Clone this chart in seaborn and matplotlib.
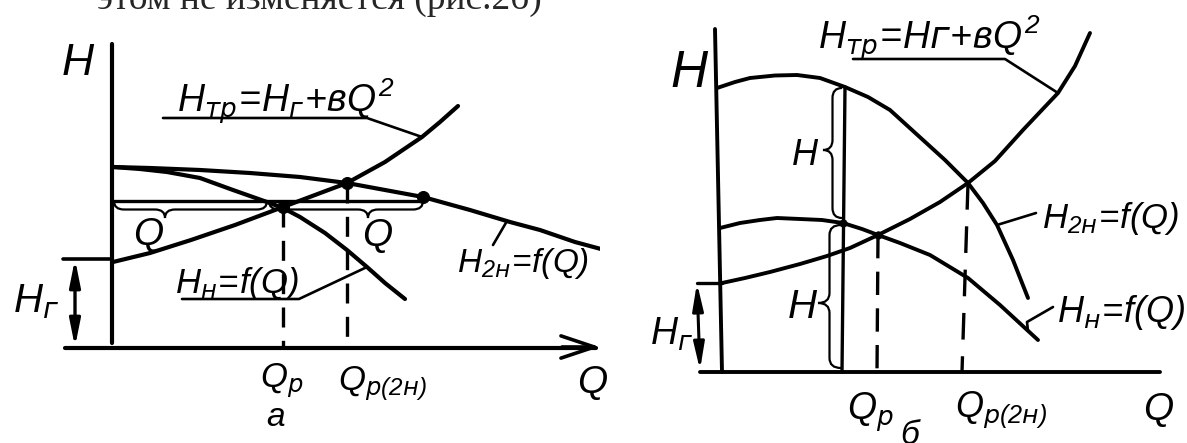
import matplotlib
matplotlib.use("Agg")
import matplotlib.pyplot as plt
from matplotlib.path import Path
from matplotlib.patches import PathPatch
import pandas as pd
import seaborn as sns

sns.set_theme(style="white")
HAND = ["Liberation Sans", "DejaVu Sans"]
plt.rcParams["font.family"] = HAND
plt.rcParams["font.style"] = "italic"
plt.rcParams["mathtext.fontset"] = "custom"
plt.rcParams["mathtext.it"] = "Liberation Sans:italic"
plt.rcParams["mathtext.rm"] = "Liberation Sans:italic"
plt.rcParams["mathtext.sf"] = "DejaVu Sans:italic"   # slanted upright-form Cyrillic
plt.rcParams["mathtext.bf"] = "Liberation Sans:italic:bold"

INK = "black"

# ---------------- panel а : curves (Q, H in drawing units) ----------------
a_pipe_q = [0.1, 3.8, 7.9, 12.3, 17.1, 20.3, 23.5, 27.3, 31.0, 32.8, 34.6]
a_pipe_h = [8.6, 9.5, 10.8, 12.3, 14.1, 15.3, 16.5, 18.6, 21.1, 22.6, 24.2]
a_two_q = [0.1, 3.8, 8.8, 13.8, 18.8, 23.5, 27.3, 31.1, 35.8, 39.8, 42.8, 46.3, 50.0]
a_two_h = [18.1, 18.0, 17.8, 17.5, 17.1, 16.5, 15.8, 15.1, 13.8, 12.6, 11.8, 10.6, 9.6]
a_one_q = [0.1, 2.8, 5.5, 8.8, 12.1, 15.5, 17.1, 18.8, 21.3, 23.5, 25.5, 27.3, 29.3]
a_one_h = [18.1, 17.9, 17.6, 17.0, 15.8, 14.6, 14.0, 13.1, 11.5, 9.8, 8.1, 6.5, 4.9]
a_dot_q = [17.1, 23.5, 31.1]
a_dot_h = [14.1, 16.5, 15.1]
a_qp = 17.1          # working point of one pump
a_qp2 = 23.5         # working point of two pumps
a_hg = 8.9           # static head
a_hline = 14.7       # level at which flows are added

# ---------------- panel б : curves ----------------
b_two_q = [-0.5, 1.3, 2.8, 5.3, 7.5, 9.8, 12.3, 14.6, 16.8, 20.1, 22.3, 24.6, 26.1, 27.5, 29.1, 30.6]
b_two_h = [28.4, 29.0, 29.4, 29.65, 29.7, 29.4, 28.5, 27.5, 26.2, 23.2, 21.2, 18.9, 16.9, 14.7, 11.2, 7.4]
b_pipe_q = [0.0, 2.3, 4.8, 7.8, 10.5, 12.8, 15.6, 18.8, 21.8, 24.6, 27.3, 30.1, 31.8, 33.6, 35.3, 36.8]
b_pipe_h = [8.9, 9.4, 10.0, 10.8, 11.6, 12.4, 13.7, 15.3, 17.0, 18.9, 21.1, 24.2, 26.0, 27.9, 30.6, 33.9]
b_one_q = [-0.2, 1.8, 3.8, 5.5, 7.8, 10.0, 12.1, 14.0, 15.6, 17.8, 20.8, 24.6, 27.8, 31.6]
b_one_h = [14.4, 14.9, 15.2, 15.4, 15.3, 15.2, 14.9, 14.3, 13.7, 12.9, 11.7, 9.4, 6.7, 3.2]
b_dot_q = [12.1, 15.6]
b_dot_h = [14.9, 13.7]
b_qh = 12.2          # flow at which heads are added
b_qp = 15.6
b_qp2 = 24.6
b_hg = 8.9


def curves_frame(items):
    rows = []
    for name, qs, hs in items:
        for q, h in zip(qs, hs):
            rows.append({"curve": name, "Q": q, "H": h})
    return pd.DataFrame(rows)


def seg(ax, qs, hs, lw=2.2, **kw):
    df = pd.DataFrame({"Q": qs, "H": hs})
    sns.lineplot(data=df, x="Q", y="H", sort=False, estimator=None, color=INK,
                 lw=lw, ax=ax, solid_capstyle="round", dash_capstyle="butt", **kw)


def hbrace(ax, x0, x1, xt, y, d, lw=1.6):
    x0, x1 = sorted((x0, x1))
    r = 1.0
    m = y - d / 2
    verts = [(x0, y), (x0, m), (x0 + r, m), (xt - r, m), (xt, m), (xt, y - d),
             (xt, m), (xt + r, m), (x1 - r, m), (x1, m), (x1, y)]
    codes = [Path.MOVETO, Path.CURVE3, Path.CURVE3, Path.LINETO, Path.CURVE3, Path.CURVE3,
             Path.CURVE3, Path.CURVE3, Path.LINETO, Path.CURVE3, Path.CURVE3]
    ax.add_patch(PathPatch(Path(verts, codes), fill=False, lw=lw, ec=INK))


def vbrace(ax, y0, y1, yt, x, d, lw=1.6):
    y0, y1 = sorted((y0, y1))
    r = 1.0
    m = x - d / 2
    verts = [(x, y0), (m, y0), (m, y0 + r), (m, yt - r), (m, yt), (x - d, yt),
             (m, yt), (m, yt + r), (m, y1 - r), (m, y1), (x, y1)]
    codes = [Path.MOVETO, Path.CURVE3, Path.CURVE3, Path.LINETO, Path.CURVE3, Path.CURVE3,
             Path.CURVE3, Path.CURVE3, Path.LINETO, Path.CURVE3, Path.CURVE3]
    ax.add_patch(PathPatch(Path(verts, codes), fill=False, lw=lw, ec=INK))


def label(ax, x, y, s, size, **kw):
    kw.setdefault("ha", "left")
    kw.setdefault("va", "baseline")
    ax.text(x, y, s, fontsize=size, color=INK, **kw)


W, H = 1187, 443
fig = plt.figure(figsize=(W / 100, H / 100), dpi=100)
fig.patch.set_facecolor("white")

# both panels use 10 px per drawing unit
ax_a = fig.add_axes([0, 0, 600 / W, 1])
ax_a.set_xlim((0 - 112) / 10, (600 - 112) / 10)
ax_a.set_ylim((348 - 443) / 10, 348 / 10)
ax_b = fig.add_axes([600 / W, 0, 587 / W, 1])
ax_b.set_xlim((600 - 722) / 10, (1187 - 722) / 10)
ax_b.set_ylim((372 - 443) / 10, 372 / 10)
for ax in (ax_a, ax_b):
    ax.axis("off")

# ======================= panel а =======================
ax = ax_a
df_a = curves_frame([("pipe", a_pipe_q, a_pipe_h),
                     ("two", a_two_q, a_two_h),
                     ("one", a_one_q, a_one_h)])
sns.lineplot(data=df_a, x="Q", y="H", units="curve", estimator=None, sort=False,
             color=INK, lw=3.0, ax=ax, legend=False)
sns.scatterplot(x=a_dot_q, y=a_dot_h, s=75, color=INK, edgecolor=INK, ax=ax, zorder=5)

# axes
seg(ax, [0, 0], [30.4, 0.5], lw=3.0)
seg(ax, [-4.7, 48.4], [0, 0], lw=3.0)
ax.annotate("", xy=(48.8, 0.1), xytext=(45.0, 0.1),
            arrowprops=dict(arrowstyle="->,head_length=1.2,head_width=0.4",
                            lw=2.6, color=INK, mutation_scale=20, shrinkA=0, shrinkB=0))
# static head
seg(ax, [-4.9, 0], [a_hg, a_hg], lw=2.6)
ax.annotate("", xy=(-3.7, 0.1), xytext=(-3.7, a_hg),
            arrowprops=dict(arrowstyle="<|-|>,head_length=1.0,head_width=0.2",
                            lw=2.4, color=INK, mutation_scale=16, shrinkA=0, shrinkB=0))
# flows added at constant head
seg(ax, [0.1, 31.1], [a_hline, a_hline], lw=2.4)
hbrace(ax, 0.2, 15.5, 5.3, a_hline, 1.7)
hbrace(ax, 15.7, 31.1, 25.6, a_hline, 1.7)
# working points
seg(ax, [a_qp, a_qp], [14.1, 0], lw=2.4, linestyle=(0, (6, 4)))
seg(ax, [a_qp2, a_qp2], [16.5, 0], lw=2.4, linestyle=(0, (6, 4)))
# leaders
seg(ax, [5.1, 25.5, 31.0], [23.0, 23.0, 21.1], lw=1.9)
seg(ax, [7.0, 18.7, 25.5], [4.9, 4.9, 8.1], lw=1.9)
seg(ax, [38.1, 39.5], [10.3, 12.7], lw=1.9)

label(ax, -5.0, 27.3, "H", 32)
label(ax, 6.5, 23.5, r"$H_{\mathsf{тр}}\!=\!H_{\mathsf{г}}\!+\!вQ^2$", 27)
label(ax, 3.6, 11.3, "Q", 28, ha="center", va="center")
label(ax, 26.5, 11.2, "Q", 28, ha="center", va="center")
label(ax, 6.3, 5.5, r"$H_{\mathsf{н}}\!=\!f(Q)$", 25)
label(ax, 34.5, 7.6, r"$H_{2\mathsf{н}}\!=\!f(Q)$", 24)
label(ax, -9.9, 3.6, r"$H_{\mathsf{г}}$", 29)
label(ax, 14.8, -3.9, r"$Q_{\mathsf{р}}$", 25)
label(ax, 22.6, -4.2, r"$Q_{\mathsf{р}(2\mathsf{н})}$", 25)
label(ax, 46.5, -4.5, "Q", 28)
label(ax, 16.4, -6.9, "а", 24, ha="center", va="center")

# ======================= panel б =======================
ax = ax_b
df_b = curves_frame([("two", b_two_q, b_two_h),
                     ("pipe", b_pipe_q, b_pipe_h),
                     ("one", b_one_q, b_one_h)])
sns.lineplot(data=df_b, x="Q", y="H", units="curve", estimator=None, sort=False,
             color=INK, lw=2.8, ax=ax, legend=False)
sns.scatterplot(x=b_dot_q, y=b_dot_h, s=30, color=INK, edgecolor=INK, ax=ax, zorder=5)

seg(ax, [-0.7, 0], [34.3, 0], lw=2.8)
seg(ax, [-2.2, 43.8], [0, 0], lw=2.8)
seg(ax, [-2.5, 0], [b_hg, b_hg], lw=2.4)
ax.annotate("", xy=(-2.2, 0.2), xytext=(-2.5, b_hg),
            arrowprops=dict(arrowstyle="<|-|>,head_length=1.0,head_width=0.2",
                            lw=2.2, color=INK, mutation_scale=16, shrinkA=0, shrinkB=0))
# heads added at constant flow
seg(ax, [12.3, 12.0], [28.5, 0], lw=2.4)
vbrace(ax, 28.4, 15.4, 22.2, 12.0, 1.9)
vbrace(ax, 14.7, 0.4, 6.9, 11.9, 2.3)
# working points
seg(ax, [b_qp, b_qp - 0.1], [13.7, 0], lw=2.4, linestyle=(0, (7, 4)))
seg(ax, [b_qp2, b_qp2 - 0.6], [18.9, 0], lw=2.4, linestyle=(0, (8, 5)))
# leaders
seg(ax, [13.1, 28.3, 33.6], [31.3, 31.3, 27.9], lw=1.9)
seg(ax, [27.5, 31.4], [14.7, 15.9], lw=1.9)
seg(ax, [30.6, 30.5, 33.1], [4.1, 5.0, 6.5], lw=1.9)

label(ax, -5.2, 28.5, "H", 37)
label(ax, 9.6, 32.2, r"$H_{\mathsf{тр}}\!=\!H\mathsf{г}\!+\!вQ^2$", 27)
label(ax, 7.0, 20.7, "H", 26)
label(ax, 6.6, 5.4, "H", 29)
label(ax, 32.0, 14.4, r"$H_{2\mathsf{н}}\!=\!f(Q)$", 25)
label(ax, 33.5, 5.0, r"$H_{\mathsf{н}}\!=\!f(Q)$", 26)
label(ax, -7.2, 2.7, r"$H_{\mathsf{г}}$", 27)
label(ax, 12.5, -4.8, r"$Q_{\mathsf{р}}$", 27)
label(ax, 23.3, -4.5, r"$Q_{\mathsf{р}(2\mathsf{н})}$", 26)
label(ax, 42.1, -4.8, "Q", 28)
label(ax, 18.8, -6.4, "б", 24, ha="center", va="center")

# running text above the figure
fig.text(97 / W, 1 - 9 / H, "этом не изменяется (рис.2б)", fontsize=27,
         family=["Liberation Serif", "DejaVu Serif"], style="normal", va="baseline")

fig.savefig("out.png", dpi=100, facecolor="white")
